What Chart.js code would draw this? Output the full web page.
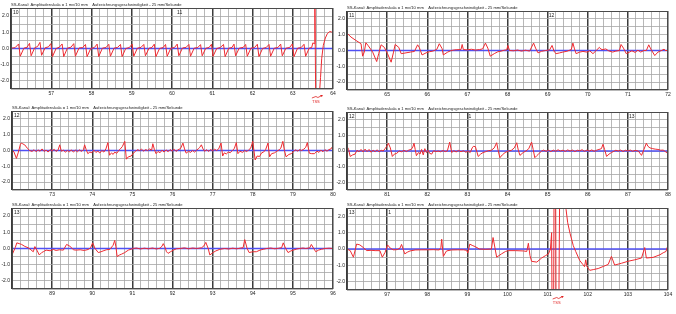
<!DOCTYPE html>
<html>
<head>
<meta charset="utf-8">
<script src="https://cdn.jsdelivr.net/npm/chart.js@4.4.1/dist/chart.umd.min.js"></script>
<style>
  body { margin: 0; background: #fff; width: 676px; height: 314px; overflow: hidden; position: relative; }
  canvas { position: absolute; }
</style>
</head>
<body>
<script>
const titleText = 'SS-Kanal: Amplitudenskala = 1 mv/10 mm    Aufzeichnungsgeschwindigkeit - 25 mm/Sekunde';
const FONT = '"Liberation Sans", Arial, sans-serif';

// time window of each strip (seconds)
const ranges = [[56, 64], [64, 72], [72, 80], [80, 88], [88, 96], [96, 104]];

// corner label and in-strip marks
const cornerMarks = ['10', '11', '12', '12', '13', '13'];
const minuteMarks = [[[60.1, '11']], [[69.0, '12']], [], [[83.0, '1'], [87.0, '13']], [], [[97.0, '1']]];
const shockMarks = [[63.6], [], [], [], [], [101.25]];

// ECG trace values, [time, mV]
const strip1 = [
  [56.0,0.02],[56.1,0.05],
  [56.19,0.28],[56.23,-0.48],[56.32,0.02],[56.4,0.08],
  [56.46,0.32],[56.5,-0.45],[56.59,0.05],[56.66,0.12],
  [56.72,0.38],[56.76,-0.42],[56.85,0.05],[56.93,0.1],
  [56.99,0.3],[57.03,-0.5],[57.12,0.0],[57.2,0.08],
  [57.27,0.28],[57.31,-0.5],[57.4,0.02],[57.49,0.08],
  [57.56,0.3],[57.6,-0.48],[57.69,0.03],[57.78,0.06],
  [57.85,0.25],[57.89,-0.5],[57.98,0.0],[58.07,0.06],
  [58.14,0.27],[58.18,-0.5],[58.27,0.02],[58.36,0.06],
  [58.43,0.26],[58.47,-0.48],[58.56,0.02],[58.65,0.07],
  [58.72,0.25],[58.76,-0.5],[58.85,0.0],[58.94,0.06],
  [59.01,0.27],[59.05,-0.48],[59.14,0.02],[59.23,0.07],
  [59.3,0.25],[59.34,-0.45],[59.43,0.02],[59.5,0.06],
  [59.56,0.27],[59.6,-0.5],[59.69,0.0],[59.78,0.06],
  [59.84,0.25],[59.88,-0.48],[59.97,0.02],[60.06,0.06],
  [60.13,0.27],[60.17,-0.45],[60.26,0.03],[60.35,0.07],
  [60.42,0.25],[60.46,-0.48],[60.55,0.02],[60.64,0.06],
  [60.71,0.24],[60.75,-0.45],[60.84,0.02],[60.92,0.06],
  [60.98,0.26],[61.02,-0.48],[61.11,0.0],[61.2,0.06],
  [61.28,0.25],[61.32,-0.5],[61.41,0.02],[61.49,0.06],
  [61.54,0.27],[61.58,-0.45],[61.67,0.02],[61.77,0.07],
  [61.83,0.25],[61.87,-0.48],[61.96,0.02],[62.05,0.06],
  [62.12,0.26],[62.16,-0.5],[62.25,0.0],[62.34,0.06],
  [62.41,0.25],[62.45,-0.48],[62.54,0.02],[62.63,0.06],
  [62.7,0.27],[62.74,-0.45],[62.83,0.02],[62.92,0.06],
  [62.99,0.28],[63.03,-0.5],[63.12,0.02],[63.21,0.06],
  [63.28,0.26],[63.32,-0.48],[63.41,0.03],[63.47,0.06],
  [63.5,0.35],[63.53,0.3],[63.55,3.2],[63.57,-3.2],[63.6,-3.0],[63.63,-3.2],[63.66,-2.9],
  [63.69,-1.8],[63.72,-0.6],[63.76,0.2],[63.81,0.65],[63.86,0.92],[63.92,1.05],[63.96,1.02],[64.0,0.98]
];

const strip2 = [
  [64.0,1.1],[64.1,0.85],[64.22,0.64],[64.35,0.43],[64.39,-0.36],[64.43,-0.1],[64.47,0.49],[64.53,0.3],
  [64.64,-0.1],[64.74,-0.7],[64.79,-0.2],[64.85,0.36],[64.93,0.2],[65.01,-0.2],[65.1,-0.74],[65.16,-0.1],
  [65.2,0.38],[65.29,0.2],[65.35,-0.2],[65.47,-0.15],[65.58,-0.1],[65.68,-0.06],[65.76,0.36],[65.8,0.2],
  [65.87,-0.28],[65.97,-0.15],[66.05,-0.08],[66.14,-0.04],[66.24,0.08],[66.3,0.43],[66.37,0.12],[66.4,-0.28],
  [66.51,-0.1],[66.58,-0.02],[66.64,0.02],[66.72,0.05],[66.84,0.06],[66.87,0.38],[66.9,0.06],[67.0,0.04],
  [67.1,0.08],[67.2,0.03],[67.3,0.06],[67.38,0.1],[67.45,0.47],[67.51,0.15],[67.57,-0.36],[67.67,-0.2],
  [67.76,-0.08],[67.84,-0.04],[67.92,0.02],[67.98,0.04],[68.01,0.32],[68.05,0.0],[68.15,-0.02],[68.25,0.03],
  [68.35,-0.04],[68.45,0.02],[68.55,-0.04],[68.65,0.47],[68.7,0.15],[68.76,-0.15],[68.85,-0.05],[68.95,0.0],
  [69.05,0.04],[69.11,0.32],[69.17,-0.1],[69.21,-0.2],[69.3,-0.15],[69.38,-0.1],[69.48,-0.05],[69.59,0.06],
  [69.63,0.47],[69.67,0.1],[69.71,-0.2],[69.8,-0.1],[69.88,-0.06],[69.98,-0.1],[70.05,-0.02],[70.13,-0.2],
  [70.21,0.0],[70.29,0.2],[70.33,0.08],[70.38,0.06],[70.45,0.1],[70.52,-0.02],[70.62,-0.1],[70.7,-0.04],
  [70.79,0.0],[70.83,0.38],[70.89,0.15],[70.96,-0.2],[71.04,-0.1],[71.1,-0.02],[71.18,-0.12],[71.25,0.02],
  [71.32,-0.1],[71.4,0.0],[71.46,0.0],[71.52,0.36],[71.57,0.1],[71.67,-0.32],[71.75,-0.1],[71.82,-0.02],
  [71.9,0.08],[71.95,-0.02],[72.0,0.06]
];

const strip3 = [
  [72.0,0.05],[72.05,-0.1],[72.11,-0.5],[72.16,-0.1],[72.21,0.4],[72.23,0.47],[72.27,0.42],[72.32,0.35],
  [72.38,0.15],[72.44,0.0],[72.5,-0.06],[72.55,0.05],[72.6,-0.08],[72.65,0.04],[72.7,-0.05],[72.75,0.1],
  [72.8,-0.06],[72.85,0.03],[72.9,-0.1],[72.95,0.06],[73.0,-0.04],[73.05,0.08],[73.1,-0.06],[73.15,0.04],
  [73.19,0.36],[73.23,-0.05],[73.28,0.02],[73.33,-0.1],[73.38,0.0],[73.43,-0.08],[73.48,0.04],[73.53,-0.1],
  [73.58,0.02],[73.63,-0.08],[73.68,0.04],[73.73,-0.06],[73.78,0.05],[73.81,0.36],[73.85,0.05],[73.89,-0.2],
  [73.94,-0.1],[73.99,-0.14],[74.04,0.02],[74.09,-0.12],[74.14,-0.04],[74.19,-0.16],[74.24,0.0],[74.29,-0.1],
  [74.34,0.1],[74.39,0.5],[74.43,-0.3],[74.48,-0.15],[74.52,-0.25],[74.56,-0.1],[74.61,-0.18],[74.66,0.0],
  [74.7,0.1],[74.75,0.25],[74.81,0.58],[74.85,-0.55],[74.9,-0.4],[74.97,-0.35],[75.03,-0.15],[75.08,-0.05],
  [75.13,0.05],[75.18,0.0],[75.23,0.08],[75.28,-0.04],[75.33,0.06],[75.38,0.0],[75.43,0.1],[75.48,0.02],
  [75.51,0.43],[75.55,0.05],[75.59,-0.2],[75.64,-0.06],[75.69,-0.14],[75.74,0.02],[75.79,-0.1],[75.84,0.04],
  [75.89,-0.08],[75.94,0.06],[75.99,-0.04],[76.04,0.08],[76.09,-0.06],[76.14,0.05],[76.2,0.12],[76.26,0.47],
  [76.3,0.1],[76.34,-0.17],[76.4,-0.05],[76.45,-0.12],[76.5,0.0],[76.55,-0.1],[76.6,0.02],[76.64,0.1],
  [76.68,0.2],[76.72,0.36],[76.76,0.1],[76.8,-0.05],[76.85,0.05],[76.9,-0.06],[76.95,0.06],[77.0,-0.02],
  [77.05,0.08],[77.1,0.0],[77.15,0.1],[77.21,0.47],[77.25,-0.35],[77.29,-0.15],[77.34,-0.22],[77.39,-0.1],
  [77.44,-0.14],[77.49,0.0],[77.54,0.12],[77.59,0.5],[77.63,-0.2],[77.68,-0.05],[77.75,-0.12],[77.8,0.0],
  [77.85,-0.08],[77.9,0.05],[77.95,0.15],[78.0,0.58],[78.06,-0.6],[78.11,-0.35],[78.17,-0.38],[78.22,-0.15],
  [78.27,-0.1],[78.32,0.05],[78.38,0.47],[78.42,-0.4],[78.47,-0.2],[78.54,-0.15],[78.6,-0.05],[78.66,0.05],
  [78.7,0.15],[78.75,0.58],[78.79,0.0],[78.83,-0.4],[78.9,-0.25],[78.96,-0.2],[79.02,-0.05],[79.07,0.04],
  [79.12,-0.04],[79.17,0.06],[79.21,0.0],[79.27,0.08],[79.32,0.2],[79.36,0.5],[79.41,-0.17],[79.47,-0.2],
  [79.54,-0.2],[79.6,-0.04],[79.65,-0.12],[79.7,0.02],[79.75,-0.08],[79.8,0.05],[79.85,-0.05],[79.9,0.06],
  [79.95,0.1],[80.0,0.3]
];

const strip4 = [
  [80.0,0.3],[80.04,0.1],[80.08,-0.35],[80.14,-0.25],[80.2,-0.2],[80.25,0.05],[80.3,-0.05],[80.35,0.1],
  [80.4,-0.06],[80.45,0.12],[80.5,-0.04],[80.55,0.1],[80.6,-0.08],[80.65,0.06],[80.7,-0.05],[80.75,0.08],
  [80.8,-0.06],[80.85,0.05],[80.9,0.0],[80.95,0.15],[80.99,0.3],[81.03,0.5],[81.08,0.2],[81.13,-0.35],
  [81.18,-0.2],[81.24,-0.15],[81.3,0.0],[81.36,-0.05],[81.42,0.04],[81.48,-0.04],[81.54,0.06],[81.6,0.1],
  [81.64,0.25],[81.67,0.5],[81.7,0.1],[81.73,-0.3],[81.78,-0.1],[81.82,-0.2],[81.86,0.1],[81.9,-0.25],
  [81.94,0.15],[81.98,-0.1],[82.02,0.05],[82.06,-0.15],[82.11,-0.2],[82.16,0.02],[82.22,-0.04],[82.27,0.0],
  [82.33,-0.05],[82.39,0.03],[82.45,-0.04],[82.5,0.0],[82.56,0.57],[82.61,-0.1],[82.66,0.02],[82.72,-0.06],
  [82.78,0.04],[82.84,-0.05],[82.9,0.02],[82.96,-0.08],[83.02,0.0],[83.07,-0.1],[83.12,0.2],[83.15,0.3],
  [83.2,0.28],[83.27,-0.35],[83.33,-0.2],[83.39,-0.1],[83.45,-0.05],[83.52,0.02],[83.6,0.05],[83.67,0.2],
  [83.73,0.53],[83.77,0.0],[83.81,-0.43],[83.87,-0.25],[83.94,-0.1],[84.02,0.0],[84.1,0.05],[84.17,0.2],
  [84.23,0.53],[84.27,0.05],[84.31,-0.28],[84.39,-0.1],[84.46,0.0],[84.53,0.15],[84.6,0.57],[84.64,0.1],
  [84.68,-0.43],[84.73,-0.3],[84.77,-0.2],[84.85,0.0],[84.9,0.06],[84.96,-0.02],[85.02,0.05],[85.08,-0.04],
  [85.14,0.06],[85.2,-0.02],[85.26,0.08],[85.32,0.0],[85.38,0.05],[85.44,-0.03],[85.5,0.07],[85.56,0.0],
  [85.62,0.06],[85.68,-0.04],[85.74,0.05],[85.8,0.02],[85.86,0.08],[85.92,-0.02],[85.98,0.06],[86.04,0.0],
  [86.1,0.07],[86.16,-0.02],[86.22,0.05],[86.28,0.1],[86.34,0.15],[86.38,0.43],[86.42,0.1],[86.47,-0.35],
  [86.53,-0.2],[86.59,-0.1],[86.65,-0.02],[86.7,0.05],[86.76,0.0],[86.82,0.06],[86.88,-0.03],[86.94,0.05],
  [87.0,0.0],[87.06,0.06],[87.12,-0.02],[87.18,0.04],[87.26,0.0],[87.34,-0.28],[87.4,0.1],[87.46,0.5],
  [87.5,0.3],[87.55,0.2],[87.62,0.15],[87.68,0.12],[87.75,0.1],[87.82,0.05],[87.88,0.06],[87.94,-0.05],
  [88.0,-0.15]
];

const strip5 = [
  [88.0,-0.4],[88.08,0.05],[88.12,0.35],[88.18,0.3],[88.24,0.25],[88.32,0.13],[88.4,0.05],[88.45,-0.04],
  [88.53,-0.2],[88.57,0.12],[88.62,-0.1],[88.68,-0.4],[88.74,-0.25],[88.78,-0.2],[88.85,-0.1],[88.95,-0.14],
  [89.03,-0.06],[89.1,-0.12],[89.18,-0.08],[89.28,-0.1],[89.36,0.25],[89.44,0.15],[89.53,-0.08],[89.6,-0.1],
  [89.7,-0.08],[89.8,-0.12],[89.9,-0.06],[89.96,0.05],[90.01,0.35],[90.07,0.0],[90.15,-0.25],[90.22,-0.2],
  [90.27,-0.15],[90.35,-0.08],[90.44,-0.05],[90.52,0.2],[90.56,0.5],[90.59,0.1],[90.62,-0.5],[90.68,-0.4],
  [90.73,-0.35],[90.81,-0.25],[90.9,-0.1],[91.02,0.0],[91.1,0.03],[91.2,-0.03],[91.3,0.02],[91.4,-0.02],
  [91.5,0.03],[91.6,-0.03],[91.69,0.02],[91.74,0.15],[91.77,0.3],[91.81,0.1],[91.85,-0.2],[91.89,-0.3],
  [91.95,-0.2],[92.02,-0.1],[92.1,-0.02],[92.19,0.0],[92.3,0.04],[92.4,-0.02],[92.5,0.03],[92.6,0.0],
  [92.72,0.04],[92.78,0.15],[92.83,0.38],[92.89,0.0],[92.93,-0.4],[93.01,-0.25],[93.08,-0.15],[93.18,-0.05],
  [93.3,0.0],[93.4,-0.03],[93.5,0.02],[93.6,-0.02],[93.7,0.03],[93.76,0.05],[93.8,0.55],[93.86,0.0],
  [93.91,-0.25],[94.0,-0.2],[94.09,-0.2],[94.18,-0.1],[94.26,-0.05],[94.35,0.0],[94.45,0.03],[94.55,-0.02],
  [94.65,0.02],[94.72,0.05],[94.76,0.35],[94.82,0.0],[94.88,-0.25],[94.95,-0.15],[95.01,-0.1],[95.1,-0.03],
  [95.17,0.0],[95.25,0.03],[95.32,0.0],[95.42,0.04],[95.46,0.25],[95.52,0.0],[95.57,-0.2],[95.64,-0.1],
  [95.71,-0.05],[95.8,0.0],[95.9,0.02],[96.0,0.0]
];

const strip6 = [
  [96.0,0.0],[96.08,-0.1],[96.16,-0.5],[96.24,0.3],[96.32,0.25],[96.4,0.1],[96.49,-0.1],[96.6,-0.08],
  [96.7,-0.1],[96.82,-0.1],[96.88,-0.5],[96.95,-0.2],[97.01,0.25],[97.08,0.05],[97.15,-0.05],[97.25,-0.04],
  [97.32,0.05],[97.36,0.28],[97.44,-0.3],[97.5,-0.2],[97.57,-0.12],[97.7,-0.06],[97.85,-0.05],[98.0,-0.05],
  [98.15,-0.04],[98.3,-0.06],[98.34,0.1],[98.36,0.6],[98.4,-0.45],[98.48,-0.12],[98.6,-0.06],[98.75,-0.05],
  [98.9,-0.05],[98.98,-0.08],[99.01,-0.25],[99.06,0.3],[99.12,0.22],[99.19,0.15],[99.3,0.0],[99.45,-0.02],
  [99.6,0.0],[99.64,0.7],[99.73,-0.5],[99.85,-0.3],[99.95,-0.15],[100.02,-0.1],[100.2,-0.1],[100.4,-0.12],
  [100.48,-0.15],[100.52,0.35],[100.56,-0.4],[100.6,-0.75],[100.73,-0.8],[100.85,-0.55],[100.95,-0.4],
  [101.02,-0.3],[101.07,0.0],[101.1,1.0],[101.11,-3.5],[101.15,-3.5],[101.16,3.5],[101.2,3.5],[101.21,-3.5],
  [101.28,-3.5],[101.3,3.5],[101.4,3.3],[101.46,2.4],[101.5,1.6],[101.56,0.94],[101.64,0.2],[101.7,-0.15],
  [101.8,-0.7],[101.88,-0.95],[101.92,-1.08],[101.95,-0.66],[101.98,-1.08],[102.05,-1.3],[102.15,-1.25],
  [102.26,-1.19],[102.4,-1.05],[102.51,-0.94],[102.59,-0.45],[102.67,-0.98],[102.84,-0.87],[103.0,-0.75],
  [103.17,-0.66],[103.34,-0.55],[103.42,0.09],[103.46,-0.55],[103.63,-0.51],[103.8,-0.35],[103.88,-0.23],
  [103.95,-0.15],[103.98,0.09],[104.0,-0.09]
];

const strips = [strip1, strip2, strip3, strip4, strip5, strip6];

// plot rectangles on the page: left, top, right, bottom
const panelRects = [
  [11, 8, 333, 89], [347, 11, 668, 90],
  [12, 111, 333, 190], [347, 112, 668, 190],
  [12, 208, 333, 289], [347, 208, 668, 290]
];

const isWhole = v => Math.abs(v - Math.round(v)) < 1e-6;

const stripDecor = {
  id: 'stripDecor',
  afterDraw(chart, args, opts) {
    const { ctx, chartArea: a } = chart;
    const x = chart.scales.x;
    ctx.save();
    ctx.strokeStyle = '#4a4a4a';
    ctx.lineWidth = 1;
    ctx.strokeRect(a.left + 0.5, a.top + 0.5, a.right - a.left - 1, a.bottom - a.top - 1);

    ctx.fillStyle = '#222';
    ctx.font = '4.1px ' + FONT;
    ctx.textBaseline = 'bottom';
    ctx.textAlign = 'left';
    ctx.fillText(titleText, a.left, a.top - 1.5);

    ctx.font = '5px ' + FONT;
    ctx.textBaseline = 'top';
    ctx.fillText(opts.corner, a.left + 2, a.top + 2);
    opts.marks.forEach(([t, s]) => ctx.fillText(s, x.getPixelForValue(t) + 1, a.top + 2));

    ctx.strokeStyle = '#e02020';
    ctx.fillStyle = '#e02020';
    opts.shocks.forEach(t => {
      const px = x.getPixelForValue(t);
      const py = a.bottom + 8;
      ctx.lineWidth = 0.8;
      ctx.beginPath();
      ctx.moveTo(px + 5, py - 1.5);
      ctx.lineTo(px + 1, py + 0.5);
      ctx.lineTo(px - 1, py - 0.5);
      ctx.lineTo(px - 5, py + 1);
      ctx.stroke();
      ctx.beginPath();
      ctx.moveTo(px + 6, py - 2);
      ctx.lineTo(px + 3, py - 2);
      ctx.lineTo(px + 5, py);
      ctx.closePath();
      ctx.fill();
      ctx.font = '4px ' + FONT;
      ctx.textAlign = 'center';
      ctx.textBaseline = 'top';
      ctx.fillText('TSS', px - 1, py + 2.5);
    });
    ctx.restore();
  }
};

strips.forEach((strip, i) => {
  const [l, t, r, b] = panelRects[i];
  const [tMin, tMax] = ranges[i];
  const canvas = document.createElement('canvas');
  canvas.width = r - l + 19;
  canvas.height = b - t + 25;
  canvas.style.left = (l - 11) + 'px';
  canvas.style.top = (t - 11) + 'px';
  document.body.appendChild(canvas);

  new Chart(canvas, {
    type: 'line',
    data: {
      datasets: [
        {
          data: strip.map(([x, y]) => ({ x, y })),
          borderColor: '#ee2a30',
          borderWidth: 1,
          pointRadius: 0,
          tension: 0
        },
        {
          data: [{ x: tMin, y: 0 }, { x: tMax, y: 0 }],
          borderColor: '#5050f4',
          borderWidth: 1.6,
          pointRadius: 0
        }
      ]
    },
    options: {
      responsive: false,
      animation: false,
      events: [],
      layout: { padding: { top: 11, right: 8, left: 0, bottom: 0 } },
      plugins: {
        legend: { display: false },
        tooltip: { enabled: false },
        stripDecor: { corner: cornerMarks[i], marks: minuteMarks[i], shocks: shockMarks[i] }
      },
      scales: {
        x: {
          type: 'linear',
          min: tMin,
          max: tMax,
          afterFit: s => { s.height = 14; },
          border: { display: false },
          grid: {
            drawTicks: false,
            color: c => isWhole(c.tick.value) ? '#3c3c3c' : '#a6a6a6',
            lineWidth: c => isWhole(c.tick.value) ? 1.5 : 0.8
          },
          ticks: {
            stepSize: 0.2,
            autoSkip: false,
            maxRotation: 0,
            padding: 2,
            color: '#222',
            font: { size: 5, family: FONT },
            callback: (v, idx) => (isWhole(v) && idx > 0) ? String(Math.round(v)) : ''
          }
        },
        y: {
          min: -2.5,
          max: 2.5,
          afterFit: s => { s.width = 11; },
          border: { display: false },
          grid: { drawTicks: false, color: '#a6a6a6', lineWidth: 0.8 },
          ticks: {
            stepSize: 0.5,
            autoSkip: false,
            padding: 2,
            color: '#222',
            font: { size: 5, family: FONT },
            callback: v => isWhole(v) ? v.toFixed(1) : ''
          }
        }
      }
    },
    plugins: [stripDecor]
  });
});
</script>
</body>
</html>
